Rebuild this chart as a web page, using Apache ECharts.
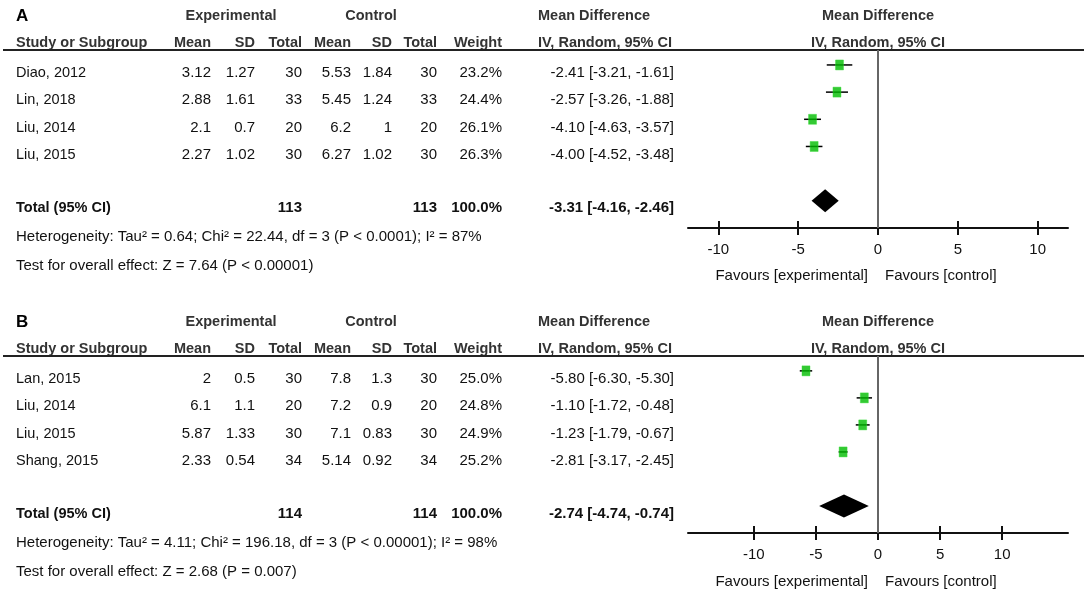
<!DOCTYPE html>
<html>
<head>
<meta charset="utf-8">
<script src="https://cdn.jsdelivr.net/npm/echarts@6/dist/echarts.min.js"></script>
<style>
  html, body { margin: 0; padding: 0; background: #fff; }
  #main { width: 1084px; height: 593px; }
</style>
</head>
<body>
<div id="main"></div>
<script>
// 面板A的数据
var studiesA = ['Diao, 2012', 'Lin, 2018', 'Liu, 2014', 'Liu, 2015']
var expMeanA = [3.12, 2.88, 2.1, 2.27]
var expSdA = [1.27, 1.61, 0.7, 1.02]
var expNA = [30, 33, 20, 30]
var ctlMeanA = [5.53, 5.45, 6.2, 6.27]
var ctlSdA = [1.84, 1.24, 1, 1.02]
var ctlNA = [30, 33, 20, 30]
var weightA = [23.2, 24.4, 26.1, 26.3]
var mdA = [-2.41, -2.57, -4.10, -4.00]
var loA = [-3.21, -3.26, -4.63, -4.52]
var hiA = [-1.61, -1.88, -3.57, -3.48]
var totalA = [-3.31, -4.16, -2.46]   // md, lo, hi
var totalNA = [113, 113]
var hetA = 'Heterogeneity: Tau² = 0.64; Chi² = 22.44, df = 3 (P < 0.0001); I² = 87%'
var testA = 'Test for overall effect: Z = 7.64 (P < 0.00001)'

// 面板B的数据
var studiesB = ['Lan, 2015', 'Liu, 2014', 'Liu, 2015', 'Shang, 2015']
var expMeanB = [2, 6.1, 5.87, 2.33]
var expSdB = [0.5, 1.1, 1.33, 0.54]
var expNB = [30, 20, 30, 34]
var ctlMeanB = [7.8, 7.2, 7.1, 5.14]
var ctlSdB = [1.3, 0.9, 0.83, 0.92]
var ctlNB = [30, 20, 30, 34]
var weightB = [25.0, 24.8, 24.9, 25.2]
var mdB = [-5.80, -1.10, -1.23, -2.81]
var loB = [-6.30, -1.72, -1.79, -3.17]
var hiB = [-5.30, -0.48, -0.67, -2.45]
var totalB = [-2.74, -4.74, -0.74]
var totalNB = [114, 114]
var hetB = 'Heterogeneity: Tau² = 4.11; Chi² = 196.18, df = 3 (P < 0.00001); I² = 98%'
var testB = 'Test for overall effect: Z = 2.68 (P = 0.007)'

// 坐标轴刻度
var tickValues = [-10, -5, 0, 5, 10]
var TOTAL_ROW = 5

var FONT = '"Liberation Sans", Arial, sans-serif'
var myChart = echarts.init(document.getElementById('main'))

// 文本
var graphics = []
function txt(s, x, y, align, bold, size, color) {
  graphics.push({
    type: 'text',
    silent: true,
    style: {
      text: s, x: x, y: y,
      textAlign: align || 'left',
      textVerticalAlign: 'middle',
      font: (bold ? 'bold ' : '') + (size || 15) + 'px ' + FONT,
      fill: color || '#111'
    }
  })
}
function ciText(md, lo, hi) {
  return md.toFixed(2) + ' [' + lo.toFixed(2) + ', ' + hi.toFixed(2) + ']'
}

function buildTable(top, letter, d) {
  var hc = '#333'
  txt(letter, 16, top + 16, 'left', true, 17, '#000')
  txt('Experimental', 231, top + 16, 'center', true, 14.5, hc)
  txt('Control', 371, top + 16, 'center', true, 14.5, hc)
  txt('Mean Difference', 538, top + 16, 'left', true, 14.5, hc)
  txt('Mean Difference', 878, top + 16, 'center', true, 14.5, hc)

  txt('Study or Subgroup', 16, top + 43, 'left', true, 14.5, hc)
  txt('Mean', 211, top + 43, 'right', true, 14.5, hc)
  txt('SD', 255, top + 43, 'right', true, 14.5, hc)
  txt('Total', 302, top + 43, 'right', true, 14.5, hc)
  txt('Mean', 351, top + 43, 'right', true, 14.5, hc)
  txt('SD', 392, top + 43, 'right', true, 14.5, hc)
  txt('Total', 437, top + 43, 'right', true, 14.5, hc)
  txt('Weight', 502, top + 43, 'right', true, 14.5, hc)
  txt('IV, Random, 95% CI', 538, top + 43, 'left', true, 14.5, hc)
  txt('IV, Random, 95% CI', 878, top + 43, 'center', true, 14.5, hc)

  graphics.push({
    type: 'line', silent: true,
    shape: { x1: 3, y1: top + 50, x2: 1084, y2: top + 50 },
    style: { stroke: '#222', lineWidth: 2 }
  })

  d.studies.forEach(function (s, i) {
    var y = top + 73 + i * 27.3
    txt(s, 16, y, 'left', false, 14.5)
    txt(String(d.expMean[i]), 211, y, 'right')
    txt(String(d.expSd[i]), 255, y, 'right')
    txt(String(d.expN[i]), 302, y, 'right')
    txt(String(d.ctlMean[i]), 351, y, 'right')
    txt(String(d.ctlSd[i]), 392, y, 'right')
    txt(String(d.ctlN[i]), 437, y, 'right')
    txt(d.weight[i].toFixed(1) + '%', 502, y, 'right')
    txt(ciText(d.md[i], d.lo[i], d.hi[i]), 674, y, 'right')
  })

  var ty = top + 208
  txt('Total (95% CI)', 16, ty, 'left', true, 14.5)
  txt(String(d.totalN[0]), 302, ty, 'right', true)
  txt(String(d.totalN[1]), 437, ty, 'right', true)
  txt('100.0%', 502, ty, 'right', true)
  txt(ciText(d.total[0], d.total[1], d.total[2]), 674, ty, 'right', true)
  txt(d.het, 16, top + 237, 'left')
  txt(d.test, 16, top + 266, 'left')

  txt('Favours [experimental]', 868, top + 276, 'right')
  txt('Favours [control]', 885, top + 276, 'left')
}

buildTable(0, 'A', {
  studies: studiesA, expMean: expMeanA, expSd: expSdA, expN: expNA,
  ctlMean: ctlMeanA, ctlSd: ctlSdA, ctlN: ctlNA, weight: weightA,
  md: mdA, lo: loA, hi: hiA, total: totalA, totalN: totalNA, het: hetA, test: testA
})
buildTable(306, 'B', {
  studies: studiesB, expMean: expMeanB, expSd: expSdB, expN: expNB,
  ctlMean: ctlMeanB, ctlSd: ctlSdB, ctlN: ctlNB, weight: weightB,
  md: mdB, lo: loB, hi: hiB, total: totalB, totalN: totalNB, het: hetB, test: testB
})

// 坐标轴（两个x轴叠在一起，让刻度线穿过轴线）
function axisPair(grid, lim) {
  return [
    {
      gridIndex: grid, type: 'value', min: -lim, max: lim, position: 'bottom',
      axisLine: { show: true, onZero: false, lineStyle: { color: '#111', width: 2 } },
      axisTick: { show: true, length: 7, customValues: tickValues, lineStyle: { color: '#111', width: 2 } },
      axisLabel: { show: true, margin: 14, customValues: tickValues, color: '#111', fontSize: 15, fontFamily: FONT },
      splitLine: { show: false }
    },
    {
      gridIndex: grid, type: 'value', min: -lim, max: lim, position: 'bottom',
      axisLine: { show: false, onZero: false },
      axisTick: { show: true, inside: true, length: 7, customValues: tickValues, lineStyle: { color: '#111', width: 2 } },
      axisLabel: { show: false },
      splitLine: { show: false }
    }
  ]
}
function yAx(grid) {
  return { gridIndex: grid, type: 'value', inverse: true, min: -0.55, max: 6, show: false }
}

function whisker(params, api) {
  var y = api.value(2)
  var p1 = api.coord([api.value(0), y])
  var p2 = api.coord([api.value(1), y])
  return {
    type: 'line',
    shape: { x1: p1[0], y1: p1[1], x2: p2[0], y2: p2[1] },
    style: { stroke: '#000', lineWidth: 1.5 }
  }
}
function diamond(params, api) {
  var y = api.value(3)
  var l = api.coord([api.value(0), y])
  var c = api.coord([api.value(1), y])
  var r = api.coord([api.value(2), y])
  var h = 11.5
  return {
    type: 'polygon',
    shape: { points: [[l[0], l[1]], [c[0], c[1] - h], [r[0], r[1]], [c[0], c[1] + h]] },
    style: { fill: '#000' }
  }
}

function panelSeries(xi, gi, md, lo, hi, total) {
  return [
    {
      type: 'custom', xAxisIndex: xi, yAxisIndex: gi, renderItem: whisker, silent: true,
      encode: { x: [0, 1], y: 2 },
      data: lo.map(function (v, i) { return [v, hi[i], i] })
    },
    {
      type: 'scatter', xAxisIndex: xi, yAxisIndex: gi, silent: true,
      symbol: 'rect', symbolSize: [8, 10],
      itemStyle: { color: '#00bb00', borderColor: '#33dd33', borderWidth: 0.5 },
      data: md.map(function (v, i) { return [v, i] }),
      markLine: {
        silent: true, symbol: 'none', label: { show: false },
        lineStyle: { color: '#666', width: 2, type: 'solid' },
        data: [{ xAxis: 0 }]
      }
    },
    {
      type: 'custom', xAxisIndex: xi, yAxisIndex: gi, renderItem: diamond, silent: true,
      encode: { x: [0, 1, 2], y: 3 },
      data: [[total[1], total[0], total[2], TOTAL_ROW]]
    }
  ]
}

var option = {
  animation: false,
  backgroundColor: '#fff',
  grid: [
    { left: 688, width: 380, top: 50, height: 178 },
    { left: 688, width: 380, top: 356, height: 177 }
  ],
  xAxis: axisPair(0, 11.9).concat(axisPair(1, 15.3)),
  yAxis: [yAx(0), yAx(1)],
  graphic: graphics,
  series: panelSeries(0, 0, mdA, loA, hiA, totalA).concat(panelSeries(2, 1, mdB, loB, hiB, totalB))
}

myChart.setOption(option)
</script>
</body>
</html>
